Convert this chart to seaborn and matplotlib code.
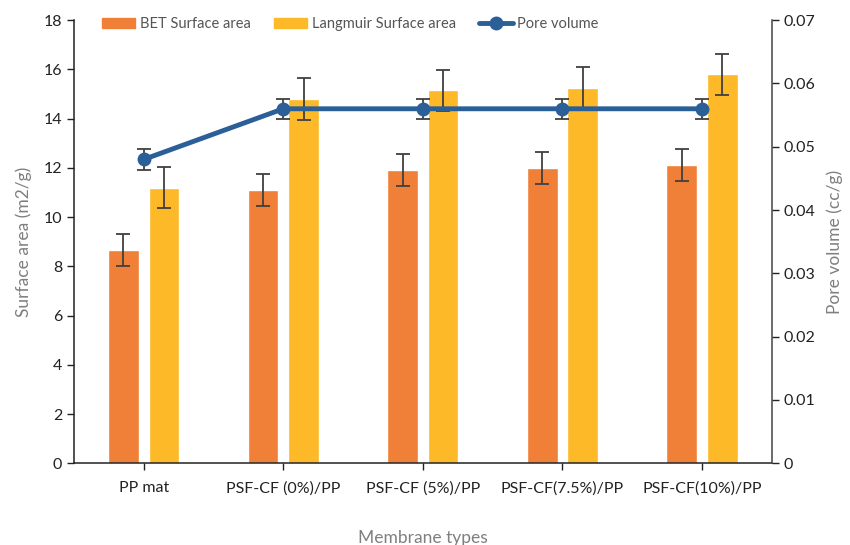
import numpy as np
import pandas as pd
import seaborn as sns
import matplotlib.pyplot as plt
from matplotlib.lines import Line2D
from matplotlib.patches import Patch

membranes = ['PP mat', 'PSF-CF (0%)/PP', 'PSF-CF (5%)/PP', 'PSF-CF(7.5%)/PP', 'PSF-CF(10%)/PP']
bet = [8.65, 11.1, 11.9, 12.0, 12.1]
bet_err = [0.65, 0.65, 0.65, 0.65, 0.65]
langmuir = [11.2, 14.8, 15.15, 15.25, 15.8]
langmuir_err = [0.85, 0.85, 0.82, 0.85, 0.82]
pore = [0.048, 0.056, 0.056, 0.056, 0.056]
pore_err = [0.0016, 0.0016, 0.0016, 0.0016, 0.0016]

c_bet = '#F08038'
c_lang = '#FDB927'
c_pore = '#2B5F97'
grey = '#7f7f7f'

sns.set_style('white')
plt.rcParams['font.family'] = ['Lato', 'DejaVu Sans']

df = pd.DataFrame({
    'Membrane': membranes * 2,
    'Series': ['BET Surface area'] * 5 + ['Langmuir Surface area'] * 5,
    'Value': bet + langmuir,
})

fig = plt.figure(figsize=(8.5, 5.45), dpi=100)
ax = fig.add_axes([0.087, 0.150, 0.821, 0.813])

sns.barplot(data=df, x='Membrane', y='Value', hue='Series', order=membranes,
            palette=[c_bet, c_lang], width=0.58, gap=0.24, errorbar=None,
            legend=False, ax=ax, saturation=1)

x = np.arange(len(membranes))
ax.errorbar(x - 0.145, bet, yerr=bet_err, fmt='none', ecolor='#404040',
            elinewidth=1.3, capsize=5, capthick=1.3)
ax.errorbar(x + 0.145, langmuir, yerr=langmuir_err, fmt='none', ecolor='#404040',
            elinewidth=1.3, capsize=5, capthick=1.3)

ax.set_xlim(-0.5, 4.5)
ax.set_ylim(0, 18)
ax.set_yticks(np.arange(0, 19, 2))
ax.set_xlabel('Membrane types', color=grey, fontsize=12.5, labelpad=25)
ax.set_ylabel('Surface area (m2/g)', color=grey, fontsize=12.5, labelpad=8)
ax.tick_params(axis='both', labelsize=11.5, colors='#222222', direction='out', length=5,
               width=1, left=True, bottom=True)
ax.tick_params(axis='x', pad=8)
for s in ['top', 'right']:
    ax.spines[s].set_visible(False)
for s in ['left', 'bottom']:
    ax.spines[s].set_color('#222222')
    ax.spines[s].set_linewidth(1.1)

ax2 = ax.twinx()
ax2.errorbar(x, pore, yerr=pore_err, fmt='none', ecolor='#404040',
             elinewidth=1.3, capsize=5, capthick=1.3, zorder=2)
sns.lineplot(x=x, y=pore, ax=ax2, color=c_pore, linewidth=3.5, marker='o',
             markersize=10, markeredgewidth=0, zorder=3)
ax2.set_ylim(0, 0.07)
ax2.set_yticks(np.arange(0, 0.071, 0.01))
ax2.set_yticklabels(['0'] + ['%.2f' % v for v in np.arange(0.01, 0.071, 0.01)])
ax2.set_ylabel('Pore volume (cc/g)', color=grey, fontsize=12.5, labelpad=8)
ax2.tick_params(axis='y', labelsize=11.5, colors='#222222', direction='out', length=5,
                width=1, right=True)
for s in ['top', 'left', 'bottom']:
    ax2.spines[s].set_visible(False)
ax2.spines['right'].set_color('#444444')
ax2.spines['right'].set_linewidth(1.1)

handles = [Patch(color=c_bet, label='BET Surface area'),
           Patch(color=c_lang, label='Langmuir Surface area'),
           Line2D([0], [0], color=c_pore, lw=3.5, marker='o', markersize=9,
                  label='Pore volume')]
leg = fig.legend(handles=handles, loc='center', bbox_to_anchor=(0.412, 0.956), ncol=3,
                 frameon=False, fontsize=10.5, handlelength=2.3, handleheight=0.7,
                 columnspacing=1.6, handletextpad=0.3, borderpad=0, borderaxespad=0)
for t in leg.get_texts():
    t.set_color('#555555')

fig.savefig('out.png', dpi=100)
